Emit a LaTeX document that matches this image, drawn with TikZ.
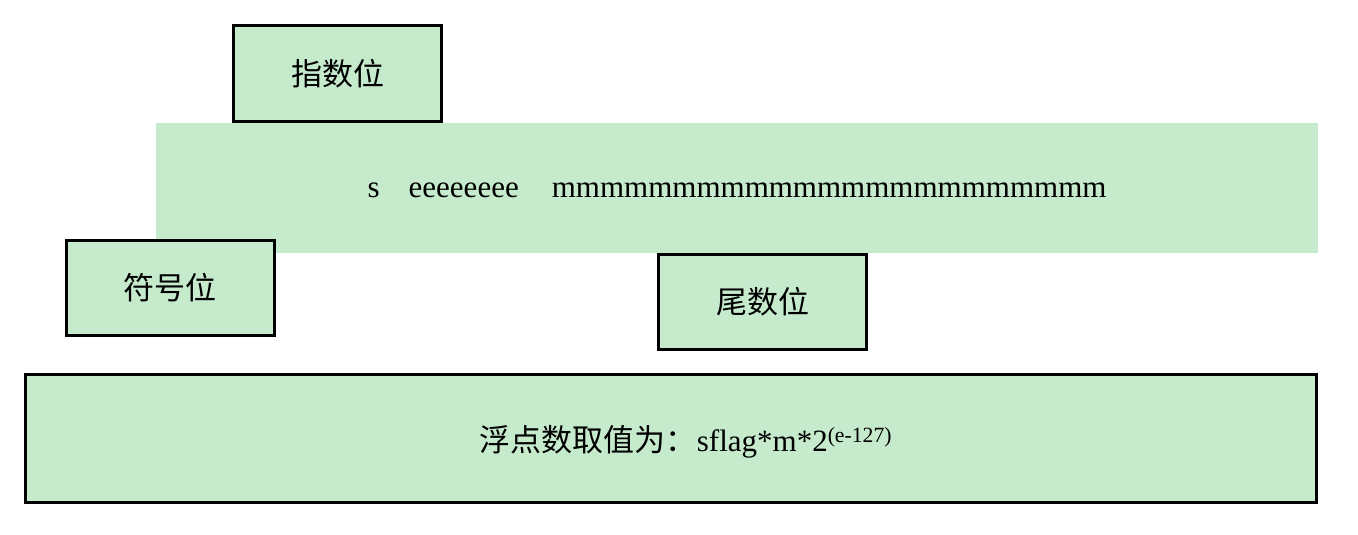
\documentclass[tikz,border=0pt]{standalone}
\usepackage{fontspec}
\setmainfont{Liberation Serif}
\newfontfamily\cjk{Noto Sans CJK SC}
\definecolor{bitgreen}{RGB}{198,235,204}
\tikzset{
  band/.style={fill=bitgreen, draw=none, inner sep=0pt, minimum width=1162pt, minimum height=130pt},
  bitbox/.style={fill=bitgreen, draw=black, line width=3pt, inner sep=0pt, minimum width=208pt, minimum height=95pt},
  txt/.style={font=\fontsize{31}{36}\selectfont},
  cjktxt/.style={font=\cjk\fontsize{31}{36}\selectfont}
}
\begin{document}
\begin{tikzpicture}[x=1pt,y=-1pt]
\useasboundingbox (0,0) rectangle (1358,535);

\node[band] (bits) at (737,188) {};
\node[txt, inner sep=0pt, yshift=-2pt] (bitstext) at (bits.center) {s\hspace{29pt}eeeeeeee\hspace{33pt}mmmmmmmmmmmmmmmmmmmmmmm};

\node[bitbox, cjktxt, minimum height=96pt] (exp) at (337.5,73.5) {指数位};
\node[bitbox, cjktxt] (sign) at (170,288) {符号位};
\node[bitbox, cjktxt] (mant) at (762.5,302) {尾数位};
\node[bitbox, minimum width=1291pt, minimum height=128pt] (value) at (671,438.5) {};
\node[txt, inner sep=0pt, xshift=15pt, yshift=-3pt] (formula) at (value.center) {{\cjk\fontsize{31}{36}\selectfont 浮点数取值为：}sflag*m*2\textsuperscript{(e-127)}};
\end{tikzpicture}
\end{document}
